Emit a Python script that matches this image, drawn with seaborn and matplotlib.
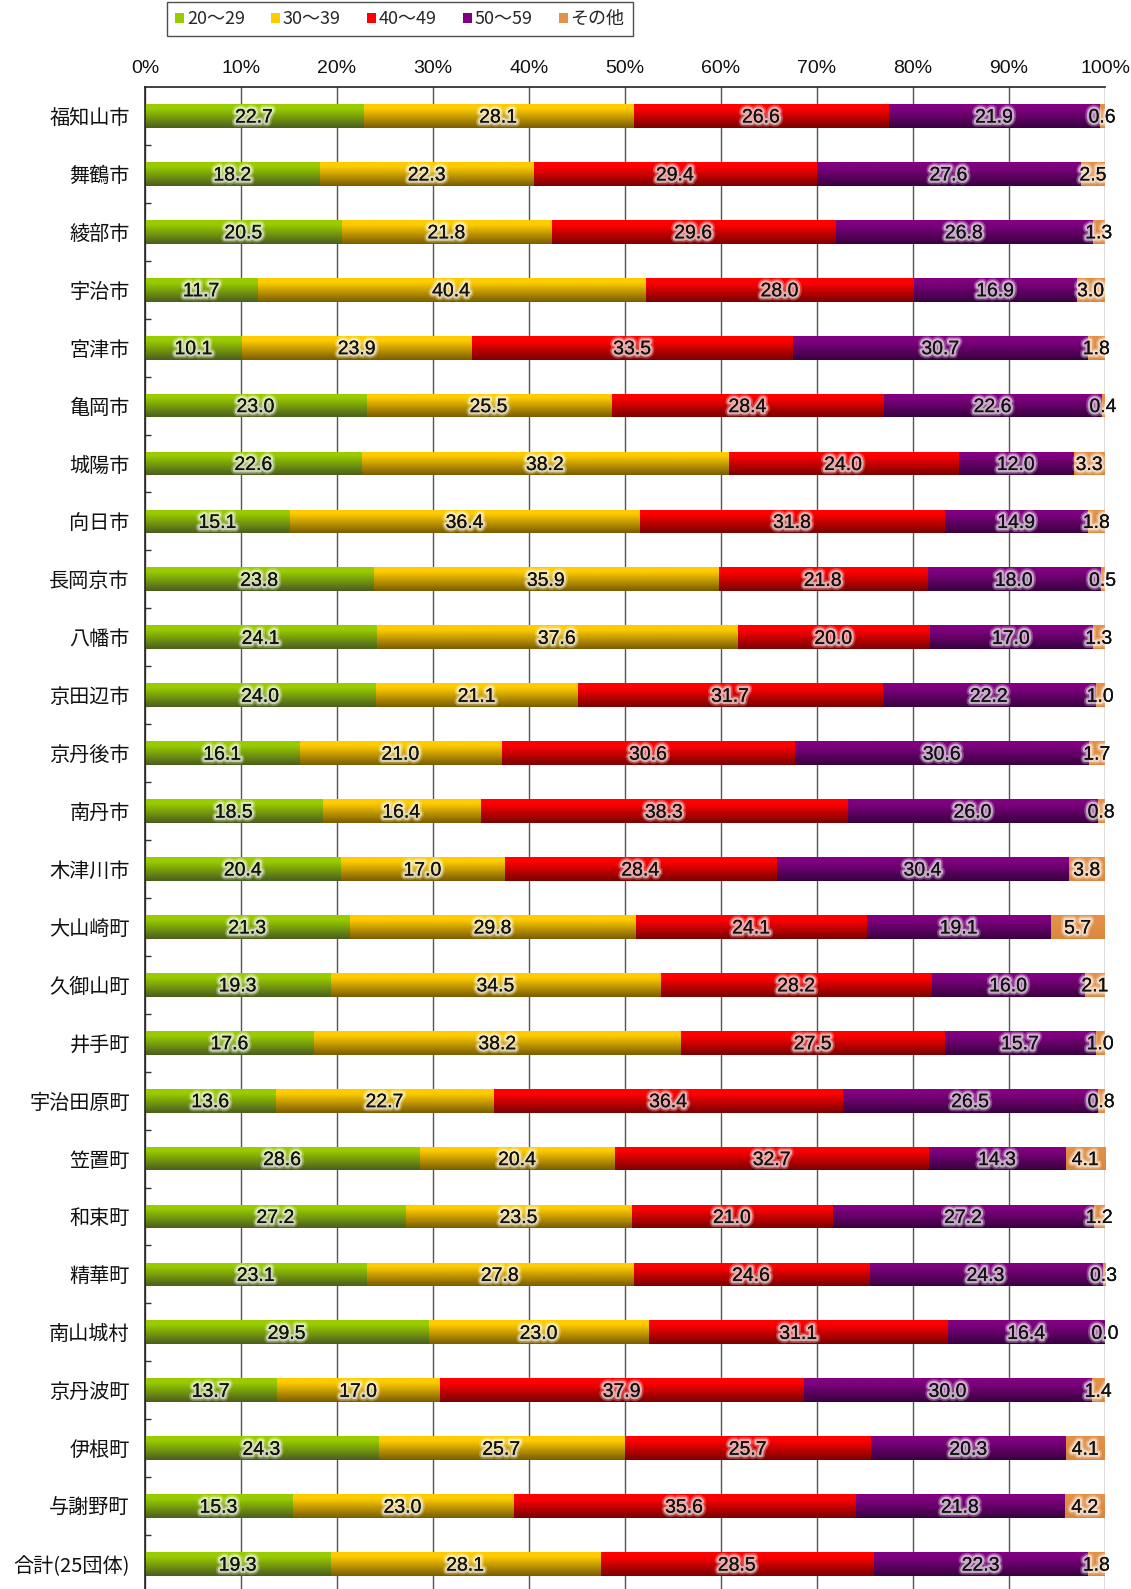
import numpy as np
import pandas as pd
import seaborn as sns
import matplotlib
matplotlib.use("Agg")
import matplotlib.pyplot as plt
import matplotlib.patheffects as pe
from matplotlib.patches import Patch
from matplotlib.colors import to_rgb

categories = ["福知山市", "舞鶴市", "綾部市", "宇治市", "宮津市", "亀岡市", "城陽市", "向日市",
              "長岡京市", "八幡市", "京田辺市", "京丹後市", "南丹市", "木津川市", "大山崎町",
              "久御山町", "井手町", "宇治田原町", "笠置町", "和束町", "精華町", "南山城村",
              "京丹波町", "伊根町", "与謝野町", "合計(25団体)"]
age20 = [22.7, 18.2, 20.5, 11.7, 10.1, 23.0, 22.6, 15.1, 23.8, 24.1, 24.0, 16.1, 18.5,
         20.4, 21.3, 19.3, 17.6, 13.6, 28.6, 27.2, 23.1, 29.5, 13.7, 24.3, 15.3, 19.3]
age30 = [28.1, 22.3, 21.8, 40.4, 23.9, 25.5, 38.2, 36.4, 35.9, 37.6, 21.1, 21.0, 16.4,
         17.0, 29.8, 34.5, 38.2, 22.7, 20.4, 23.5, 27.8, 23.0, 17.0, 25.7, 23.0, 28.1]
age40 = [26.6, 29.4, 29.6, 28.0, 33.5, 28.4, 24.0, 31.8, 21.8, 20.0, 31.7, 30.6, 38.3,
         28.4, 24.1, 28.2, 27.5, 36.4, 32.7, 21.0, 24.6, 31.1, 37.9, 25.7, 35.6, 28.5]
age50 = [21.9, 27.6, 26.8, 16.9, 30.7, 22.6, 12.0, 14.9, 18.0, 17.0, 22.2, 30.6, 26.0,
         30.4, 19.1, 16.0, 15.7, 26.5, 14.3, 27.2, 24.3, 16.4, 30.0, 20.3, 21.8, 22.3]
other = [0.6, 2.5, 1.3, 3.0, 1.8, 0.4, 3.3, 1.8, 0.5, 1.3, 1.0, 1.7, 0.8,
         3.8, 5.7, 2.1, 1.0, 0.8, 4.1, 1.2, 0.3, 0.0, 1.4, 4.1, 4.2, 1.8]
series_names = ["20～29", "30～39", "40～49", "50～59", "その他"]
x_ticks = [0, 10, 20, 30, 40, 50, 60, 70, 80, 90, 100]
x_ticklabels = [f"{t}%" for t in x_ticks]

top_colors = ["#99CC00", "#FFCC00", "#FF0000", "#800080", "#E39149"]
bottom_colors = ["#4A5E1E", "#7A5C00", "#7A0000", "#3A0040", "#D98840"]

sns.set_theme(style="white")
plt.rcParams["font.family"] = ["Noto Sans CJK JP", "DejaVu Sans"]
num_font = ["Liberation Sans Narrow", "Liberation Sans", "DejaVu Sans"]

values = np.array([age20, age30, age40, age50, other])  # (5, 26)
totals = values.sum(axis=0)
pct = values / totals * 100.0
cum = np.cumsum(pct, axis=0)

W, H = 1131, 1589
fig = plt.figure(figsize=(W / 100, H / 100), dpi=100)
ax = fig.add_axes([145 / W, 1 - 1593 / H, 960 / W, (1593 - 87) / H])

bar_h = 0.41


def gradient_img(k, n=64):
    t = np.linspace(0, 1, n)
    f = np.clip((t - 0.18) / 0.82, 0, 1)[:, None]
    top = np.array(to_rgb(top_colors[k]))
    bot = np.array(to_rgb(bottom_colors[k]))
    rgb = top[None, :] * (1 - f) + bot[None, :] * f
    return rgb[:, None, :]


for k in range(4, -1, -1):
    df = pd.DataFrame({"cat": categories, "val": cum[k]})
    n_before = len(ax.patches)
    sns.barplot(data=df, x="val", y="cat", orient="h", color=top_colors[k],
                width=bar_h, ax=ax, saturation=1, linewidth=0)
    new_patches = ax.patches[n_before:]
    img = gradient_img(k)
    for p in new_patches:
        x0, y0 = p.get_x(), p.get_y()
        w, h = p.get_width(), p.get_height()
        p.set_zorder(2 + (4 - k) * 0.02)
        im = ax.imshow(img, extent=(x0, x0 + w, y0 + h, y0), aspect="auto",
                       interpolation="bilinear", zorder=2.01 + (4 - k) * 0.02)
        im.set_clip_path(p)

# value labels with soft white glow
glow = [pe.withStroke(linewidth=6, foreground="white", alpha=0.25),
        pe.withStroke(linewidth=3.5, foreground="white", alpha=0.55),
        pe.Normal()]
for k in range(5):
    for j in range(len(categories)):
        left = cum[k][j] - pct[k][j]
        xc = left + pct[k][j] / 2
        ax.text(xc, j, f"{values[k][j]:.1f}", ha="center", va="center_baseline",
                fontsize=14, family=num_font, color="#111111", zorder=6,
                path_effects=glow)

ax.set_xlim(0, 100)
ax.set_ylim(len(categories) - 0.5, -0.5)
ax.xaxis.tick_top()
ax.set_xticks(x_ticks)
ax.set_xticklabels(x_ticklabels, fontsize=14, family=num_font)
ax.tick_params(axis="x", length=0, pad=7, colors="#111111")
ax.grid(axis="x", color="#555555", linewidth=1.0)
ax.grid(axis="y", visible=False)
ax.set_axisbelow(True)
ax.set_xlabel("")
ax.set_ylabel("")

ax.set_yticks(range(len(categories)))
ax.set_yticklabels(categories, fontsize=14.5)
ax.tick_params(axis="y", which="major", length=0, pad=11, colors="#111111")
ax.set_yticks(np.arange(0.5, len(categories) - 0.5, 1.0), minor=True)
ax.tick_params(axis="y", which="minor", length=4, width=1, direction="in",
               color="#333333", left=True)

for s in ["left", "top"]:
    ax.spines[s].set_visible(True)
    ax.spines[s].set_color("#222222")
    ax.spines[s].set_linewidth(1.2)
ax.spines["right"].set_visible(False)
ax.spines["bottom"].set_visible(False)

handles = [Patch(facecolor=top_colors[k], edgecolor="none") for k in range(5)]
leg = fig.legend(handles, series_names, loc="upper left",
                 bbox_to_anchor=(167 / W, 1 - 2 / H), ncol=5, fontsize=13,
                 frameon=True, fancybox=False, edgecolor="#222222",
                 handlelength=0.5, handleheight=0.5, handletextpad=0.15,
                 columnspacing=1.45, borderpad=0.45, borderaxespad=0)
leg.get_frame().set_linewidth(1.0)

fig.savefig("out.png", dpi=100)
